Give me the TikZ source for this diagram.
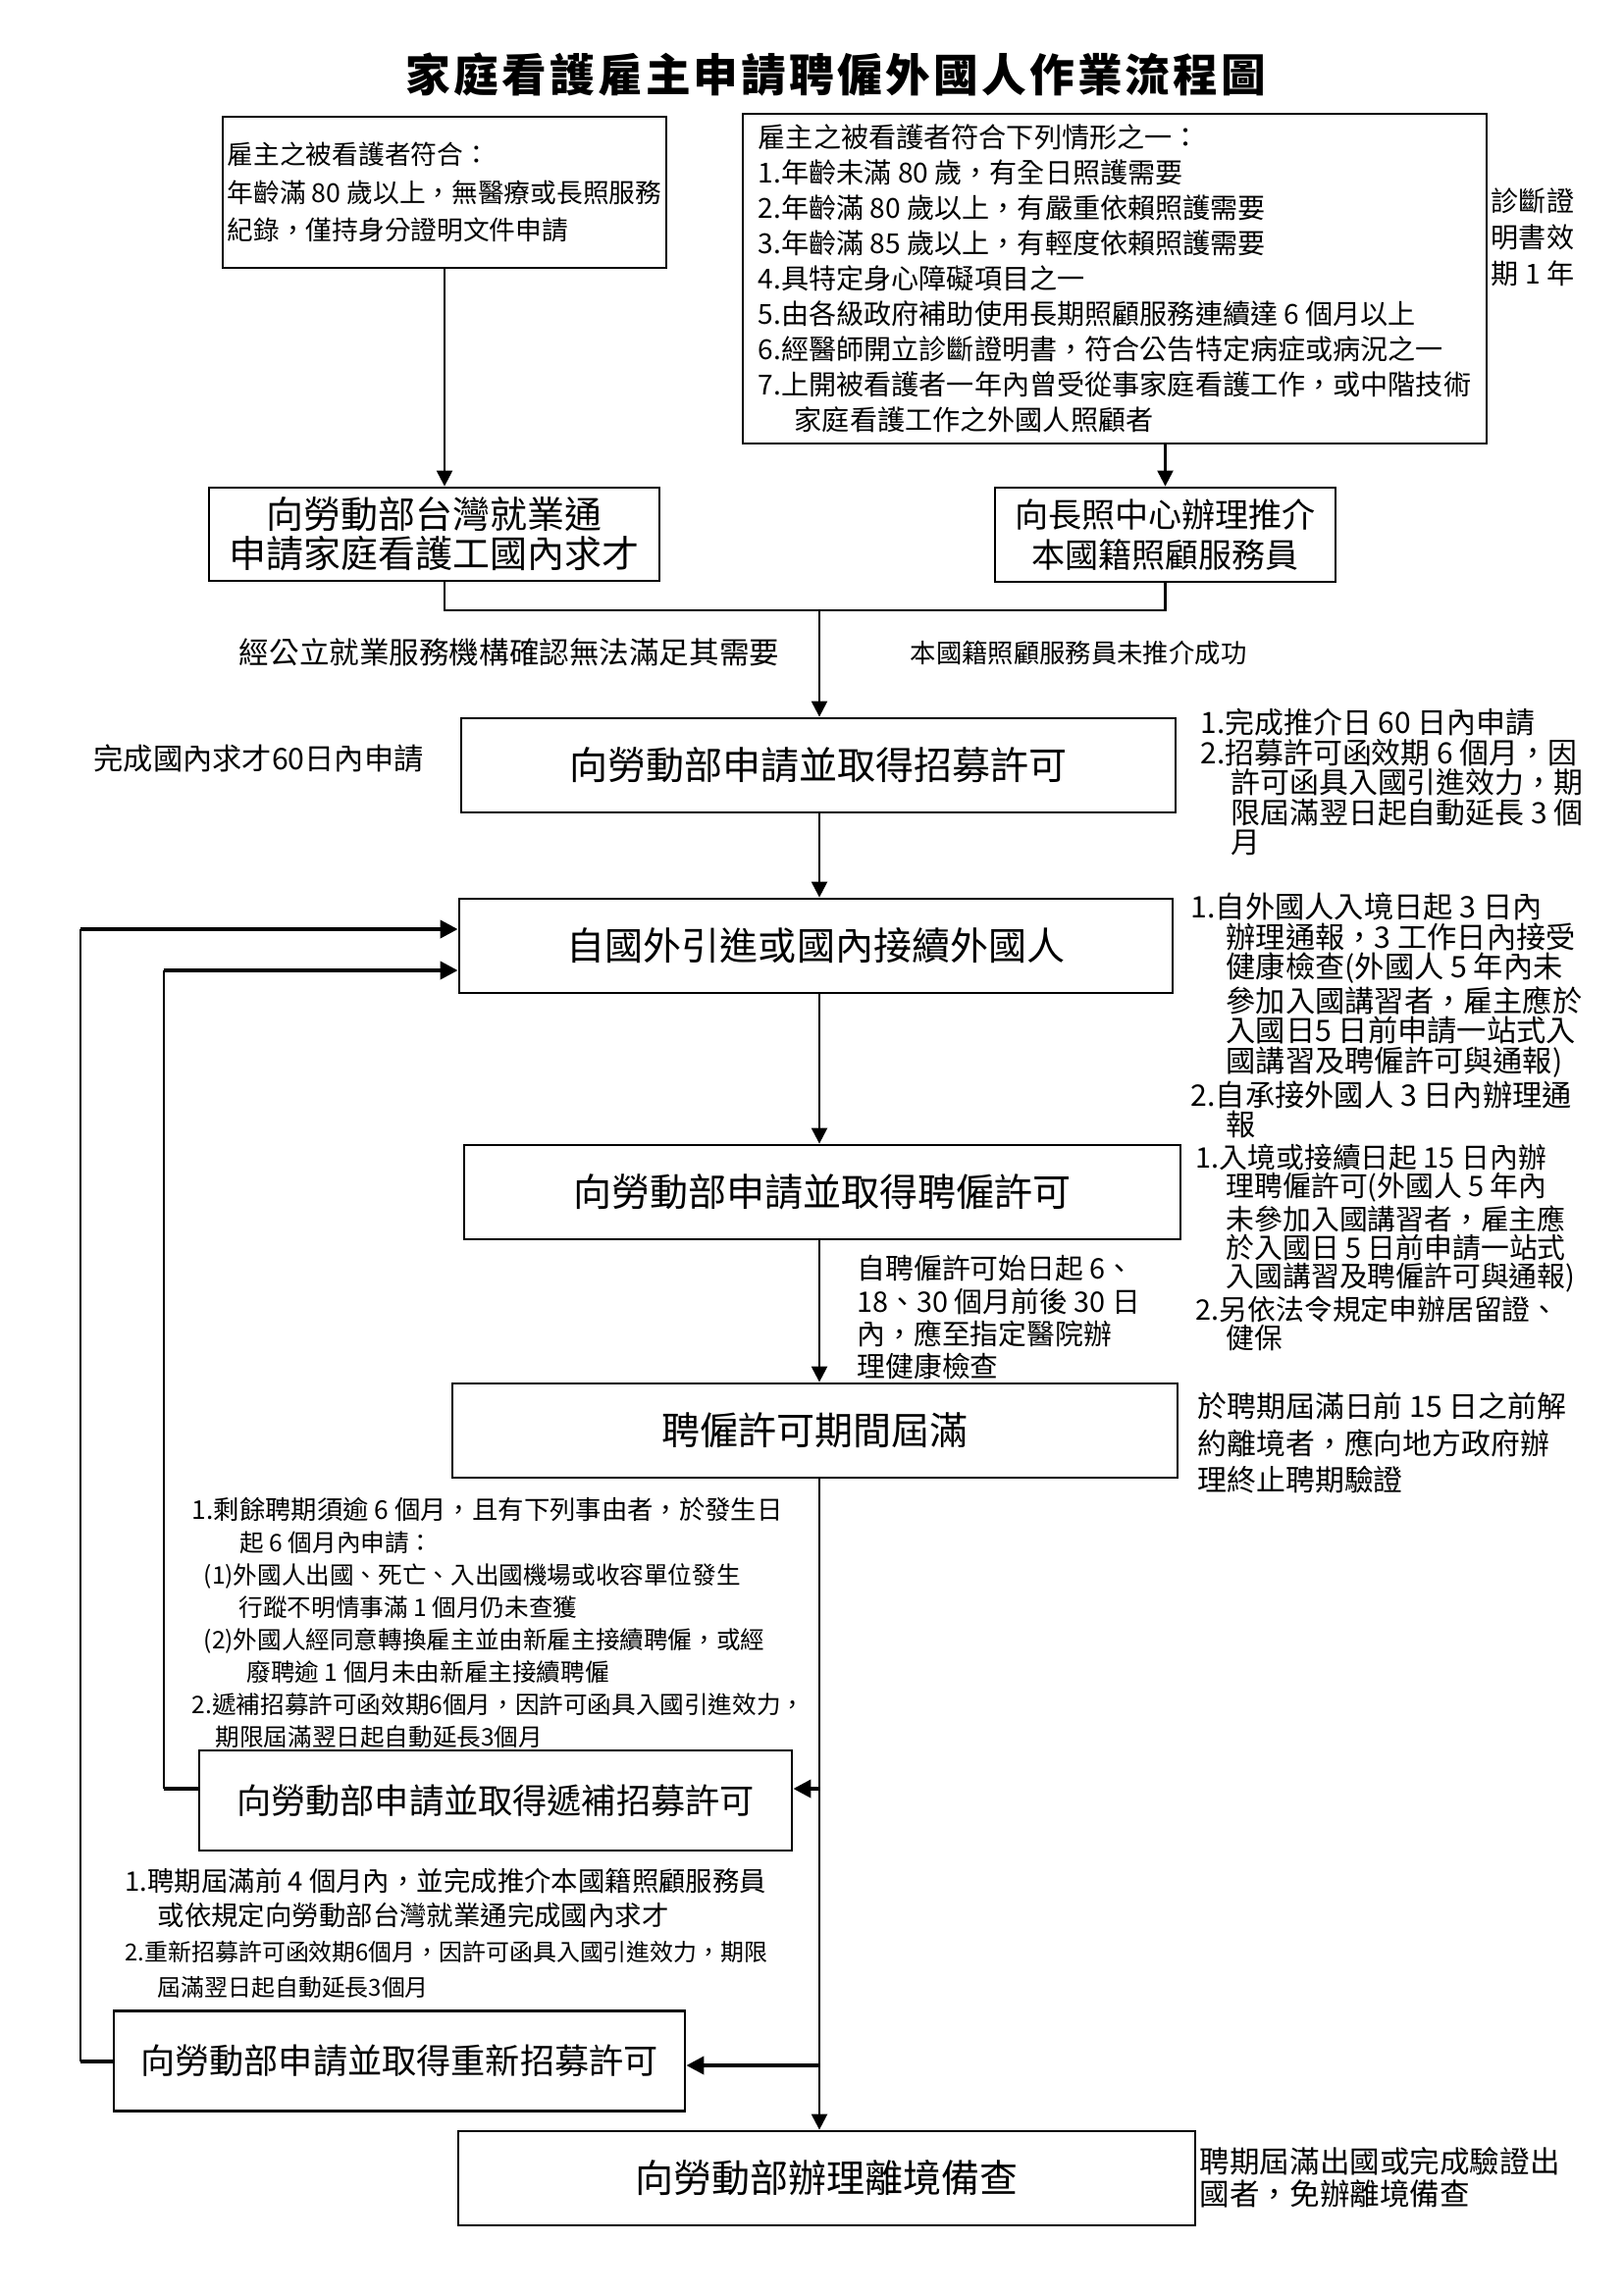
\documentclass[tikz,border=0pt]{standalone}
\usepackage{fontspec}
\setmainfont{Noto Sans CJK TC}
\usetikzlibrary{arrows.meta}
\newcommand{\fsz}[2]{\fontsize{#1}{#2}\selectfont}

\begin{document}
\begin{tikzpicture}[
  box/.style={draw, line width=0.8pt, inner sep=1pt},
  mbox/.style={box, minimum height=0.96cm, font=\fsz{11.1}{13}},
  sbox/.style={box, minimum height=1.02cm, font=\fsz{10}{12}},
  note/.style={inner sep=0pt, align=left, anchor=north west},
  ln/.style={line width=0.65pt},
  hln/.style={line width=1.1pt},
  arr/.style={ln, -{Triangle[length=1.6mm,width=1.6mm]}},
  harr/.style={hln, -{Triangle[length=1.8mm,width=1.8mm]}}
]
\useasboundingbox (0,0) rectangle (16.54,-23.39);

\node[font=\fsz{13}{16}\bfseries\addfontfeatures{LetterSpace=7}] (title) at (8.52,-0.76) {家庭看護雇主申請聘僱外國人作業流程圖};

\node[box, align=left, minimum width=4.52cm, minimum height=1.54cm, font=\fsz{7.6}{10.95}] (elig) at (4.53,-1.96)
  {雇主之被看護者符合：\\年齡滿 80 歲以上，無醫療或長照服務\\紀錄，僅持身分證明文件申請};
\node[box, align=left, minimum width=7.58cm, minimum height=3.36cm, font=\fsz{8}{10.24}] (crit) at (11.36,-2.84)
  {雇主之被看護者符合下列情形之一：\\1.年齡未滿 80 歲，有全日照護需要\\2.年齡滿 80 歲以上，有嚴重依賴照護需要\\3.年齡滿 85 歲以上，有輕度依賴照護需要\\4.具特定身心障礙項目之一\\5.由各級政府補助使用長期照顧服務連續達 6 個月以上\\6.經醫師開立診斷證明書，符合公告特定病症或病況之一\\7.上開被看護者一年內曾受從事家庭看護工作，或中階技術\\\hspace*{0.37cm}家庭看護工作之外國人照顧者};
\node[align=left, inner sep=0pt, font=\fsz{8}{10.5}] (cert) at (15.62,-2.42) {診斷證\\明書效\\期 1 年};

\node[box, align=center, minimum width=4.59cm, minimum height=0.95cm, font=\fsz{10.8}{11.4}] (job) at (4.425,-5.445)
  {向勞動部台灣就業通\\申請家庭看護工國內求才};
\node[box, align=center, minimum width=3.47cm, minimum height=0.96cm, font=\fsz{9.7}{11.4}] (care) at (11.875,-5.45)
  {向長照中心辦理推介\\本國籍照顧服務員};

\node[anchor=east, inner sep=0pt, font=\fsz{8.7}{10}] (lbljob) at (7.95,-6.65) {經公立就業服務機構確認無法滿足其需要};
\node[anchor=west, inner sep=0pt, font=\fsz{7.5}{10}] (lblcare) at (9.27,-6.65) {本國籍照顧服務員未推介成功};

\node[mbox, minimum width=7.28cm] (recruit) at (8.34,-7.80) {向勞動部申請並取得招募許可};
\node[mbox, minimum width=7.27cm] (bring) at (8.315,-9.64) {自國外引進或國內接續外國人};
\node[mbox, minimum width=7.30cm] (permit) at (8.38,-12.15) {向勞動部申請並取得聘僱許可};
\node[mbox, minimum width=7.39cm] (expire) at (8.305,-14.58) {聘僱許可期間屆滿};
\node[sbox, minimum width=6.04cm] (refill) at (5.05,-18.35) {向勞動部申請並取得遞補招募許可};
\node[sbox, minimum width=5.82cm] (renew) at (4.07,-21.005) {向勞動部申請並取得重新招募許可};
\node[mbox, minimum width=7.51cm] (exit) at (8.425,-22.20) {向勞動部辦理離境備查};

\node[anchor=west, inner sep=0pt, font=\fsz{8.6}{10}] (nleft) at (0.95,-7.73) {完成國內求才60日內申請};
\node[note, font=\fsz{8.5}{8.7}] (nrecruit) at (12.23,-7.215)
  {1.完成推介日 60 日內申請\\2.招募許可函效期 6 個月，因\\\hspace*{0.31cm}許可函具入國引進效力，期\\\hspace*{0.31cm}限屆滿翌日起自動延長 3 個\\\hspace*{0.31cm}月};
\node[note, font=\fsz{8.6}{8.6}] (nbring) at (12.13,-9.095)
  {1.自外國人入境日起 3 日內\\\hspace*{0.36cm}辦理通報，3 工作日內接受\\\hspace*{0.36cm}健康檢查(外國人 5 年內未\\\hspace*{0.36cm}參加入國講習者，雇主應於\\\hspace*{0.36cm}入國日5 日前申請一站式入\\\hspace*{0.36cm}國講習及聘僱許可與通報)\\2.自承接外國人 3 日內辦理通\\\hspace*{0.36cm}報};
\node[note, font=\fsz{8.2}{8.3}] (npermit) at (12.18,-11.65)
  {1.入境或接續日起 15 日內辦\\\hspace*{0.31cm}理聘僱許可(外國人 5 年內\\\hspace*{0.31cm}未參加入國講習者，雇主應\\\hspace*{0.31cm}於入國日 5 日前申請一站式\\\hspace*{0.31cm}入國講習及聘僱許可與通報)\\2.另依法令規定申辦居留證、\\\hspace*{0.31cm}健保};
\node[note, font=\fsz{8.2}{9.4}] (nhealth) at (8.73,-12.79)
  {自聘僱許可始日起 6、\\18、30 個月前後 30 日\\內，應至指定醫院辦\\理健康檢查};
\node[note, font=\fsz{8.5}{10.7}] (nexpire) at (12.2,-14.185)
  {於聘期屆滿日前 15 日之前解\\約離境者，應向地方政府辦\\理終止聘期驗證};
\node[note, font=\fsz{7}{9.4}] (nrefill) at (1.95,-15.25)
  {{\fsz{7.5}{9.4}1.剩餘聘期須逾 6 個月，且有下列事由者，於發生日}\\\hspace*{0.49cm}起 6 個月內申請：\\\hspace*{0.12cm}(1)外國人出國、死亡、入出國機場或收容單位發生\\\hspace*{0.48cm}行蹤不明情事滿 1 個月仍未查獲\\\hspace*{0.12cm}(2)外國人經同意轉換雇主並由新雇主接續聘僱，或經\\\hspace*{0.56cm}廢聘逾 1 個月未由新雇主接續聘僱\\2.遞補招募許可函效期6個月，因許可函具入國引進效力，\\\hspace*{0.24cm}期限屆滿翌日起自動延長3個月};
\node[note, font=\fsz{7.8}{10.2}] (nrenew) at (1.27,-19.03)
  {1.聘期屆滿前 4 個月內，並完成推介本國籍照顧服務員\\\hspace*{0.33cm}或依規定向勞動部台灣就業通完成國內求才\\{\fsz{6.8}{10.2}2.重新招募許可函效期6個月，因許可函具入國引進效力，期限}\\\hspace*{0.33cm}{\fsz{6.8}{10.2}屆滿翌日起自動延長3個月}};
\node[note, font=\fsz{8.7}{9.4}] (nexit) at (12.22,-21.88)
  {聘期屆滿出國或完成驗證出\\國者，免辦離境備查};

\coordinate (mainx) at (8.35,0);
\coordinate (merge) at (8.35,-6.22);
\coordinate (j1) at (8.35,-18.23);
\coordinate (j2) at (8.35,-21.05);
\coordinate (k1) at (1.67,-18.23);
\coordinate (k2) at (1.67,-9.89);
\coordinate (m1) at (0.82,-21.01);
\coordinate (m2) at (0.82,-9.47);

\draw[arr] (elig.south) -- (elig.south |- job.north);
\draw[arr] (crit.south -| care.north) -- (care.north);
\draw[ln] (elig.south |- job.south) |- (merge) -| (care.south);
\draw[arr] (merge) -- (recruit.north -| merge);
\draw[arr] (recruit.south -| mainx) -- (bring.north -| mainx);
\draw[arr] (bring.south -| mainx) -- (permit.north -| mainx);
\draw[arr] (permit.south -| mainx) -- (expire.north -| mainx);
\draw[arr] (expire.south -| mainx) -- (exit.north -| mainx);
\draw[harr] (j1) -- (j1 -| refill.east);
\draw[harr] (j2) -- (j2 -| renew.east);
\draw[hln] (k1 -| refill.west) -- (k1);
\draw[ln] (k1) -- (k2);
\draw[harr] (k2) -- (k2 -| bring.west);
\draw[hln] (m1 -| renew.west) -- (m1);
\draw[ln] (m1) -- (m2);
\draw[harr] (m2) -- (m2 -| bring.west);
\end{tikzpicture}
\end{document}
